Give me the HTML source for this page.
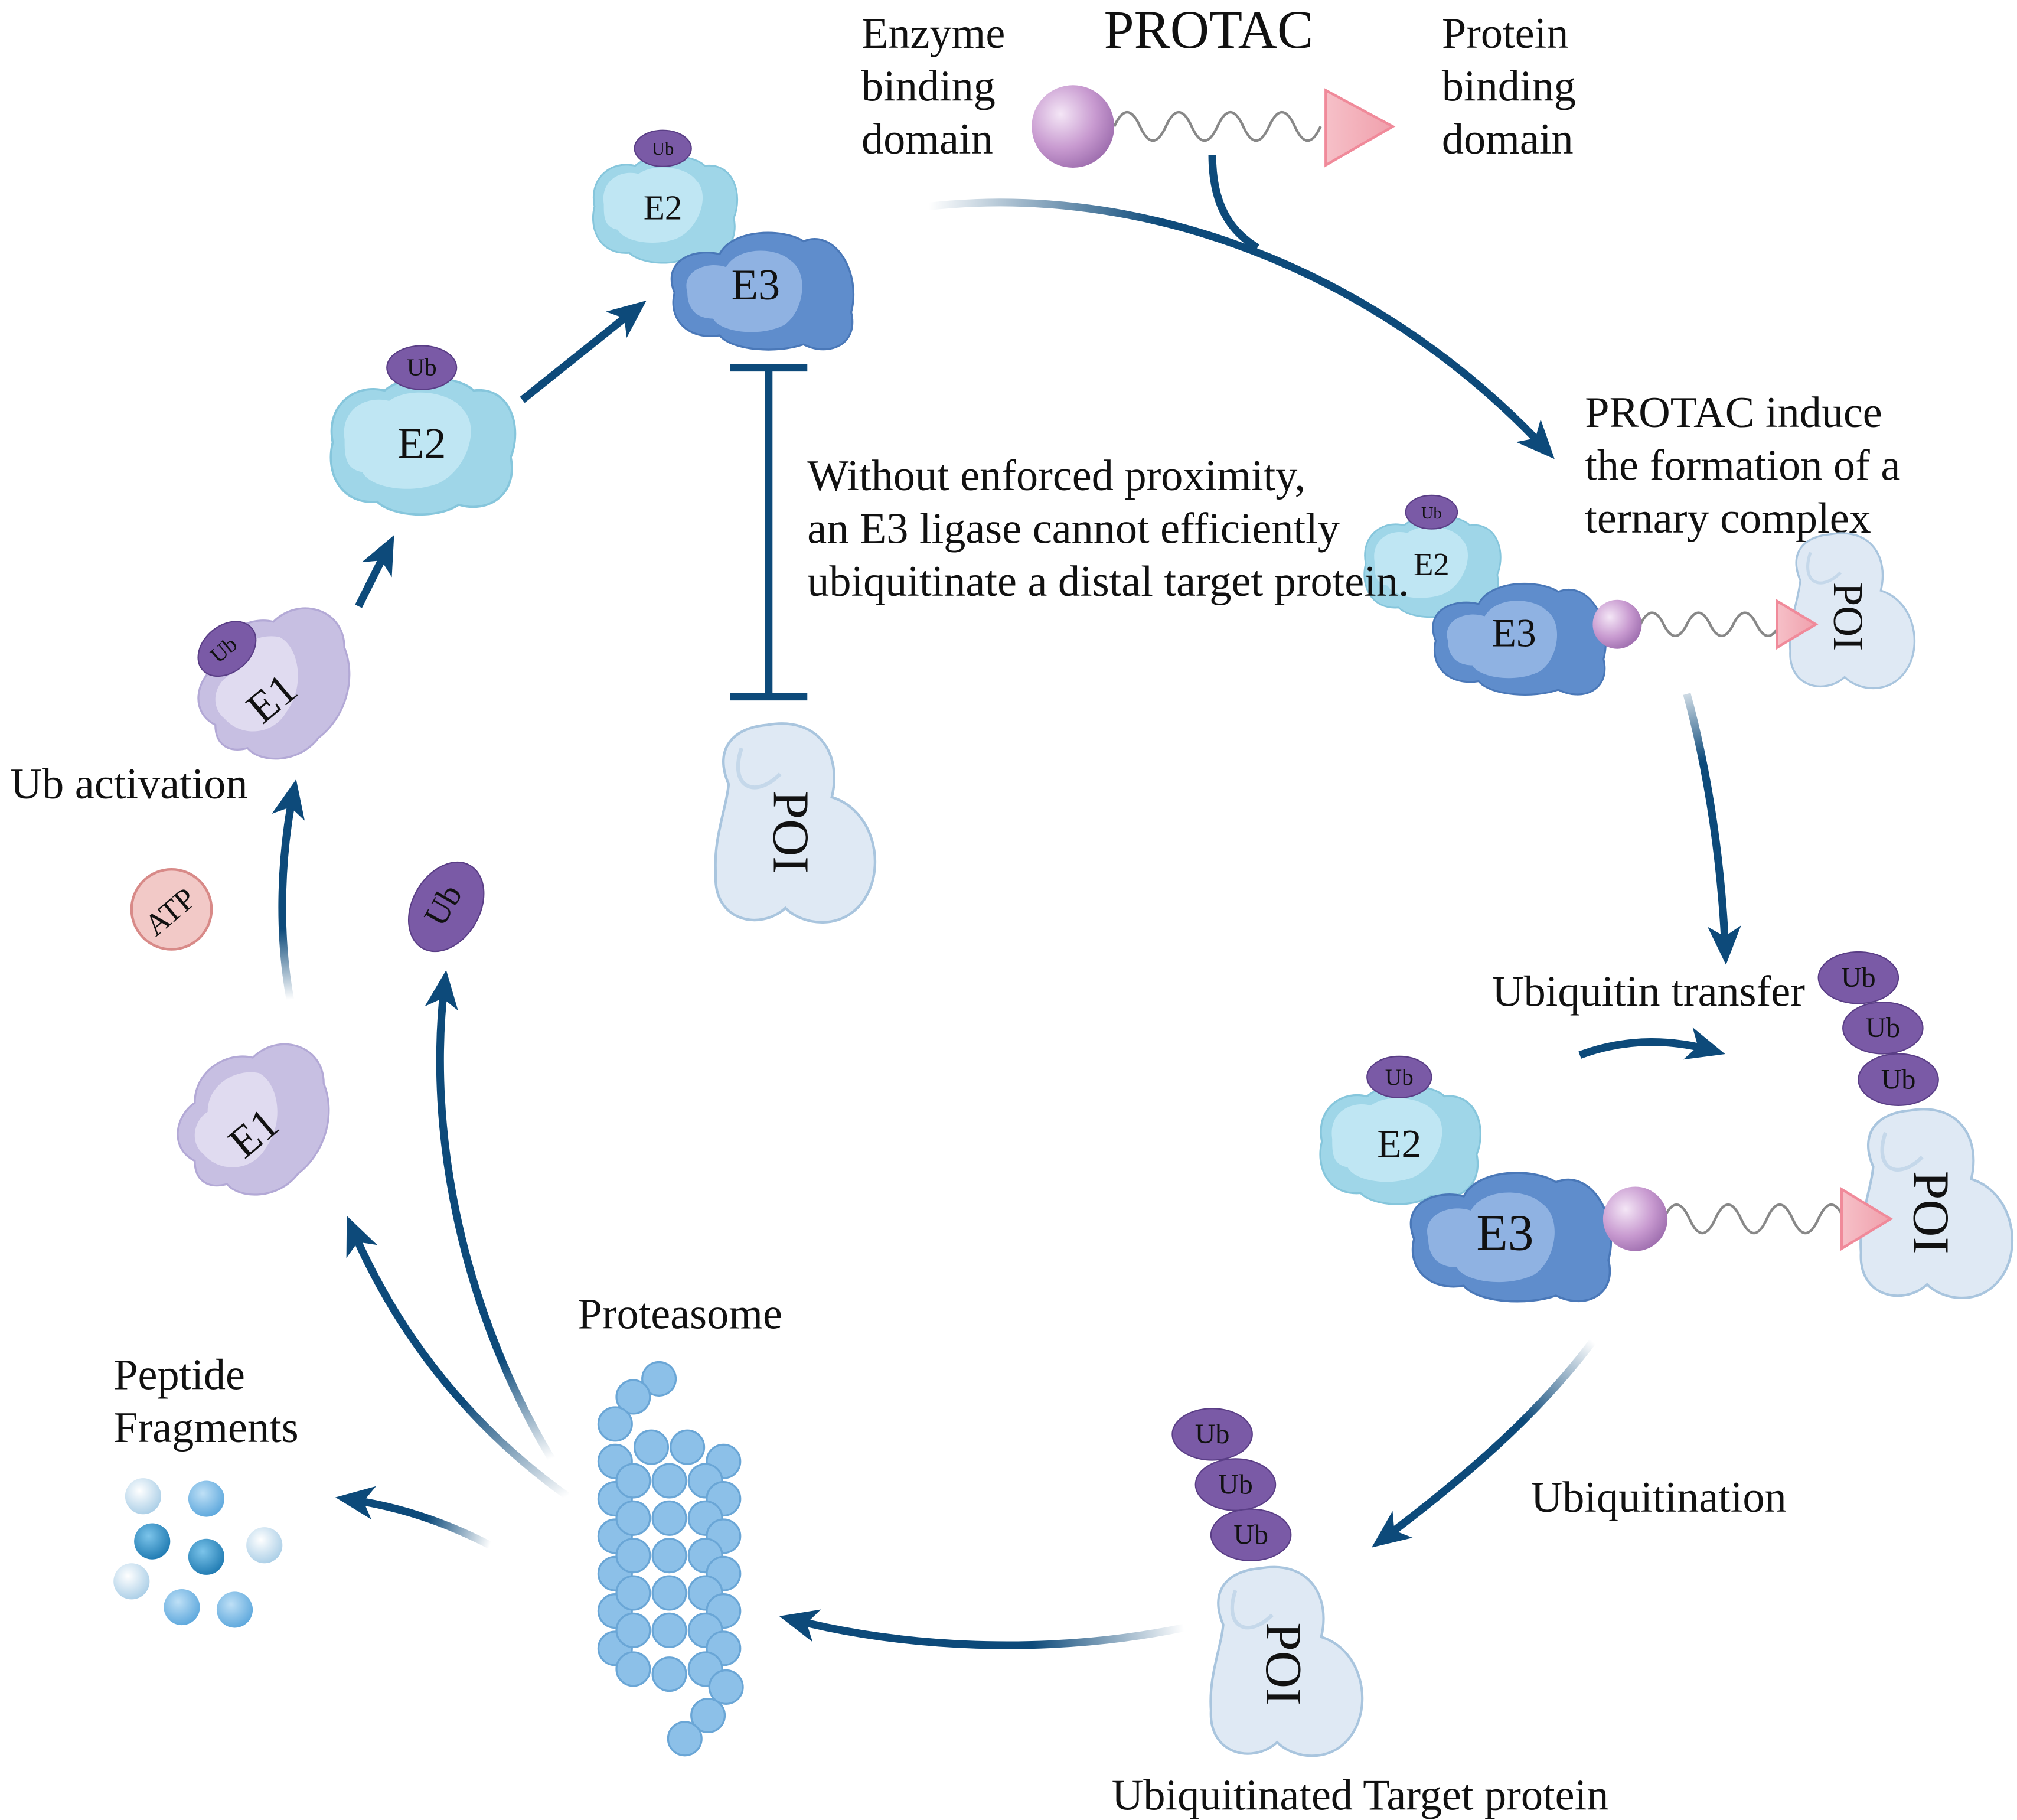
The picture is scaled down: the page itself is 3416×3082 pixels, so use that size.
<!DOCTYPE html>
<html><head><meta charset="utf-8"><style>
html,body{margin:0;padding:0;background:#fff}
svg{display:block}
text{font-family:"Liberation Serif",serif;fill:#111}
</style></head><body>
<svg width="3416" height="3082" viewBox="0 0 1564 1411" xmlns="http://www.w3.org/2000/svg">
<defs>
<marker id="ah" viewBox="0 0 30 30" refX="22" refY="15" markerWidth="30" markerHeight="30" markerUnits="userSpaceOnUse" orient="auto">
<path d="M0,2 L30,15 L0,28 L8,15 Z" fill="#0d4a7a"/></marker>
<radialGradient id="sph" cx="0.35" cy="0.35" r="0.7"><stop offset="0" stop-color="#f4e6f6"/><stop offset="0.6" stop-color="#c89ad0"/><stop offset="1" stop-color="#a070b0"/></radialGradient>
<linearGradient id="tri" x1="0" x2="1"><stop offset="0" stop-color="#f6c0c8"/><stop offset="1" stop-color="#f0a0ac"/></linearGradient>
<radialGradient id="ball" cx="0.4" cy="0.35" r="0.7"><stop offset="0" stop-color="#bfe0f6"/><stop offset="1" stop-color="#5aa6dc"/></radialGradient>
<radialGradient id="ballL" cx="0.4" cy="0.35" r="0.7"><stop offset="0" stop-color="#ffffff"/><stop offset="1" stop-color="#a8cde6"/></radialGradient>
<radialGradient id="ballD" cx="0.4" cy="0.35" r="0.7"><stop offset="0" stop-color="#7cc4ea"/><stop offset="1" stop-color="#1c78b0"/></radialGradient>
<linearGradient id="g1" gradientUnits="userSpaceOnUse" x1="720" y1="160" x2="900" y2="170"><stop offset="0" stop-color="#0d4a7a" stop-opacity="0"/><stop offset="1" stop-color="#0d4a7a"/></linearGradient>
<linearGradient id="g2" gradientUnits="userSpaceOnUse" x1="1235" y1="1040" x2="1180" y2="1100"><stop offset="0" stop-color="#0d4a7a" stop-opacity="0"/><stop offset="1" stop-color="#0d4a7a"/></linearGradient>
<linearGradient id="g3" gradientUnits="userSpaceOnUse" x1="918" y1="1262" x2="800" y2="1275"><stop offset="0" stop-color="#0d4a7a" stop-opacity="0"/><stop offset="1" stop-color="#0d4a7a"/></linearGradient>
<linearGradient id="g4" gradientUnits="userSpaceOnUse" x1="440" y1="1160" x2="390" y2="1070"><stop offset="0" stop-color="#0d4a7a" stop-opacity="0"/><stop offset="1" stop-color="#0d4a7a"/></linearGradient>
<linearGradient id="g5" gradientUnits="userSpaceOnUse" x1="380" y1="1198" x2="330" y2="1180"><stop offset="0" stop-color="#0d4a7a" stop-opacity="0"/><stop offset="1" stop-color="#0d4a7a"/></linearGradient>
<linearGradient id="g6" gradientUnits="userSpaceOnUse" x1="225" y1="775" x2="222" y2="720"><stop offset="0" stop-color="#0d4a7a" stop-opacity="0"/><stop offset="1" stop-color="#0d4a7a"/></linearGradient>
<linearGradient id="g7" gradientUnits="userSpaceOnUse" x1="1308" y1="538" x2="1320" y2="590"><stop offset="0" stop-color="#0d4a7a" stop-opacity="0.2"/><stop offset="1" stop-color="#0d4a7a"/></linearGradient>
<linearGradient id="g8" gradientUnits="userSpaceOnUse" x1="430" y1="1130" x2="400" y2="1050"><stop offset="0" stop-color="#0d4a7a" stop-opacity="0"/><stop offset="1" stop-color="#0d4a7a"/></linearGradient>

<g id="poi">
<path d="M-20,-78 C20,-85 38,-55 30,-22 C62,-12 72,30 56,56 C40,82 8,78 -6,64 C-26,82 -62,74 -60,38 C-62,10 -52,-12 -50,-32 C-62,-60 -46,-76 -20,-78Z" fill="#dfe9f4" stroke="#a9c5de" stroke-width="2"/>
<path d="M-40,-60 C-50,-30 -30,-20 -10,-40" fill="none" stroke="#c5d8ea" stroke-width="3"/>
</g>
<g id="e3">
<path d="M-65,5 C-75,-20 -50,-30 -30,-25 C-20,-45 20,-45 35,-35 C60,-45 80,-10 72,20 C78,45 55,55 35,45 C15,52 -20,50 -30,38 C-55,42 -70,25 -65,5Z" fill="#5f8dcc" stroke="#4a78b8" stroke-width="1.5"/>
<path d="M-55,5 C-60,-12 -40,-20 -25,-15 C-15,-32 15,-30 25,-20 C40,-10 35,20 20,30 C0,40 -30,35 -35,25 C-50,25 -55,15 -55,5Z" fill="#8fb2e2"/>
</g>
<g id="e2">
<path d="M-60,0 C-65,-25 -45,-40 -25,-35 C-10,-48 25,-45 35,-35 C60,-38 68,-10 60,10 C65,35 45,48 25,42 C10,52 -20,50 -30,40 C-55,42 -65,20 -60,0Z" fill="#9fd6e8" stroke="#86c6dc" stroke-width="1.5"/>
<path d="M-52,-2 C-55,-22 -38,-32 -22,-28 C-8,-38 20,-34 28,-22 C40,-10 30,20 10,28 C-10,35 -35,30 -40,20 C-52,18 -52,8 -52,-2Z" fill="#bfe6f3"/>
</g>
<g id="e1">
<path d="M-45,30 C-65,20 -60,-5 -45,-15 C-45,-40 -20,-55 0,-50 C20,-70 55,-60 55,-30 C65,-5 55,25 35,40 C20,60 -10,60 -20,48 C-35,52 -45,45 -45,30Z" fill="#c7bfe2" stroke="#b3a9d6" stroke-width="1.5"/>
<path d="M-38,25 C-50,15 -45,-2 -35,-8 C-35,-30 -12,-42 5,-38 C20,-30 25,0 10,20 C0,38 -25,40 -38,25Z" fill="#e0dbf0"/>
</g>
</defs>

<text x="668" y="37" font-size="34">Enzyme</text>
<text x="668" y="78" font-size="34">binding</text>
<text x="668" y="119" font-size="34">domain</text>
<text x="856" y="37" font-size="42">PROTAC</text>
<text x="1118" y="37" font-size="34">Protein</text>
<text x="1118" y="78" font-size="34">binding</text>
<text x="1118" y="119" font-size="34">domain</text>

<path d="M864,98 q10,-22 20,0 t20,0 t20,0 t20,0 t20,0 t20,0 t20,0 t20,0" fill="none" stroke="#888" stroke-width="2"/>
<circle cx="832" cy="98" r="32" fill="url(#sph)"/>
<path d="M1028,70 L1080,98 L1028,128Z" fill="url(#tri)" stroke="#f08a9a" stroke-width="2"/>

<path d="M720,160 C900,140 1080,220 1200,350" fill="none" stroke="url(#g1)" stroke-width="6" marker-end="url(#ah)"/>
<path d="M940,120 C940,160 955,180 975,192" fill="none" stroke="#0d4a7a" stroke-width="6"/>

<text x="1229" y="331" font-size="34">PROTAC induce</text>
<text x="1229" y="372" font-size="34">the formation of a</text>
<text x="1229" y="413" font-size="34">ternary complex</text>

<use href="#e2" transform="translate(515,160) scale(0.9)"/>
<text x="514" y="170" font-size="27" text-anchor="middle">E2</text>
<ellipse cx="514" cy="115" rx="22" ry="14" fill="#7a5aa6" stroke="#5a3e86"/>
<text x="514" y="120" font-size="14" text-anchor="middle">Ub</text>
<use href="#e3" transform="translate(588,222)"/>
<text x="586" y="232" font-size="34" text-anchor="middle">E3</text>

<path d="M596,285 V540 M566,285 H626 M566,540 H626" stroke="#0d4a7a" stroke-width="6" fill="none"/>

<use href="#poi" transform="translate(615,640)"/>
<text transform="translate(600,645) rotate(90)" font-size="40" text-anchor="middle">POI</text>

<use href="#e2" transform="translate(327,343) scale(1.15)"/>
<text x="327" y="355" font-size="34" text-anchor="middle">E2</text>
<ellipse cx="327" cy="285" rx="27" ry="17" fill="#7a5aa6" stroke="#5a3e86"/>
<text x="327" y="291" font-size="19" text-anchor="middle">Ub</text>
<path d="M405,310 L495,238" stroke="#0d4a7a" stroke-width="6" marker-end="url(#ah)"/>
<path d="M278,470 L302,422" stroke="#0d4a7a" stroke-width="6" marker-end="url(#ah)"/>

<use href="#e1" transform="translate(212,532)"/>
<text transform="translate(218,550) rotate(-40)" font-size="34" text-anchor="middle">E1</text>
<ellipse cx="176" cy="503" rx="25" ry="18" transform="rotate(-40 176 503)" fill="#7a5aa6" stroke="#5a3e86"/>
<text transform="translate(177,508) rotate(-40)" font-size="17" text-anchor="middle">Ub</text>
<text x="8" y="619" font-size="34">Ub activation</text>

<circle cx="133" cy="705" r="31" fill="#f2c9c7" stroke="#d88a88" stroke-width="2"/>
<text transform="translate(137,713) rotate(-40)" font-size="24" text-anchor="middle">ATP</text>
<ellipse cx="346" cy="703" rx="26" ry="37" transform="rotate(30 346 703)" fill="#7a5aa6" stroke="#5a3e86"/>
<text transform="translate(351,706) rotate(-60)" font-size="26" text-anchor="middle">Ub</text>

<path d="M225,775 C215,720 218,660 228,612" fill="none" stroke="url(#g6)" stroke-width="6" marker-end="url(#ah)"/>

<use href="#e1" transform="translate(196,870)"/>
<text transform="translate(204,887) rotate(-40)" font-size="34" text-anchor="middle">E1</text>

<path d="M430,1135 C360,1020 330,880 345,760" fill="none" stroke="url(#g8)" stroke-width="6" marker-end="url(#ah)"/>
<path d="M440,1160 C370,1110 310,1040 272,950" fill="none" stroke="url(#g4)" stroke-width="6" marker-end="url(#ah)"/>
<path d="M380,1198 C345,1180 310,1168 268,1162" fill="none" stroke="url(#g5)" stroke-width="6" marker-end="url(#ah)"/>

<text x="448" y="1030" font-size="34">Proteasome</text>
<text x="88" y="1077" font-size="34">Peptide</text>
<text x="88" y="1118" font-size="34">Fragments</text>

<circle cx="111" cy="1160" r="14" fill="url(#ballL)"/>
<circle cx="160" cy="1162" r="14" fill="url(#ball)"/>
<circle cx="118" cy="1195" r="14" fill="url(#ballD)"/>
<circle cx="160" cy="1207" r="14" fill="url(#ballD)"/>
<circle cx="205" cy="1198" r="14" fill="url(#ballL)"/>
<circle cx="102" cy="1226" r="14" fill="url(#ballL)"/>
<circle cx="141" cy="1246" r="14" fill="url(#ball)"/>
<circle cx="182" cy="1248" r="14" fill="url(#ball)"/>

<g fill="#8cc0e8" stroke="#6aa6d6" stroke-width="1.5">
<circle cx="511" cy="1069" r="13"/><circle cx="491" cy="1083" r="13"/><circle cx="477" cy="1104" r="13"/>
<circle cx="505" cy="1122" r="13"/><circle cx="533" cy="1122" r="13"/><circle cx="561" cy="1133" r="13"/>
<circle cx="477" cy="1133" r="13"/>
<circle cx="477" cy="1162" r="13"/><circle cx="491" cy="1148" r="13"/><circle cx="519" cy="1148" r="13"/><circle cx="547" cy="1148" r="13"/><circle cx="561" cy="1162" r="13"/>
<circle cx="477" cy="1191" r="13"/><circle cx="491" cy="1177" r="13"/><circle cx="519" cy="1177" r="13"/><circle cx="547" cy="1177" r="13"/><circle cx="561" cy="1191" r="13"/>
<circle cx="477" cy="1220" r="13"/><circle cx="491" cy="1206" r="13"/><circle cx="519" cy="1206" r="13"/><circle cx="547" cy="1206" r="13"/><circle cx="561" cy="1220" r="13"/>
<circle cx="477" cy="1249" r="13"/><circle cx="491" cy="1235" r="13"/><circle cx="519" cy="1235" r="13"/><circle cx="547" cy="1235" r="13"/><circle cx="561" cy="1249" r="13"/>
<circle cx="477" cy="1278" r="13"/><circle cx="491" cy="1264" r="13"/><circle cx="519" cy="1264" r="13"/><circle cx="547" cy="1264" r="13"/><circle cx="561" cy="1278" r="13"/>
<circle cx="491" cy="1294" r="13"/><circle cx="519" cy="1298" r="13"/><circle cx="547" cy="1294" r="13"/><circle cx="563" cy="1308" r="13"/>
<circle cx="549" cy="1330" r="13"/><circle cx="531" cy="1348" r="13"/>
</g>

<path d="M918,1262 C820,1282 710,1280 612,1255" fill="none" stroke="url(#g3)" stroke-width="6" marker-end="url(#ah)"/>

<use href="#poi" transform="translate(996,1290) scale(0.95)"/>
<text transform="translate(982,1290) rotate(90)" font-size="40" text-anchor="middle">POI</text>
<ellipse cx="940" cy="1112" rx="31" ry="20" fill="#7a5aa6" stroke="#5a3e86"/>
<text x="940" y="1119" font-size="22" text-anchor="middle">Ub</text>
<ellipse cx="958" cy="1151" rx="31" ry="20" fill="#7a5aa6" stroke="#5a3e86"/>
<text x="958" y="1158" font-size="22" text-anchor="middle">Ub</text>
<ellipse cx="970" cy="1190" rx="31" ry="20" fill="#7a5aa6" stroke="#5a3e86"/>
<text x="970" y="1197" font-size="22" text-anchor="middle">Ub</text>
<text x="862" y="1403" font-size="34">Ubiquitinated Target protein</text>

<path d="M1235,1040 C1190,1100 1130,1150 1070,1195" fill="none" stroke="url(#g2)" stroke-width="6" marker-end="url(#ah)"/>
<text x="1187" y="1172" font-size="34">Ubiquitination</text>

<path d="M1290,945 q10,-22 20,0 t20,0 t20,0 t20,0 t20,0 t20,0 t20,0" fill="none" stroke="#888" stroke-width="2"/>
<use href="#poi" transform="translate(1500,935) scale(0.95)"/>
<text transform="translate(1484,940) rotate(90)" font-size="40" text-anchor="middle">POI</text>
<use href="#e2" transform="translate(1085,885)"/>
<text x="1085" y="897" font-size="31" text-anchor="middle">E2</text>
<ellipse cx="1085" cy="835" rx="25" ry="16" fill="#7a5aa6" stroke="#5a3e86"/>
<text x="1085" y="841" font-size="18" text-anchor="middle">Ub</text>
<use href="#e3" transform="translate(1168,955) scale(1.1)"/>
<text x="1167" y="969" font-size="40" text-anchor="middle">E3</text>
<circle cx="1268" cy="945" r="25" fill="url(#sph)"/>
<path d="M1428,922 L1466,945 L1428,968Z" fill="url(#tri)" stroke="#f08a9a" stroke-width="2"/>
<ellipse cx="1441" cy="758" rx="31" ry="20" fill="#7a5aa6" stroke="#5a3e86"/>
<text x="1441" y="765" font-size="22" text-anchor="middle">Ub</text>
<ellipse cx="1460" cy="797" rx="31" ry="20" fill="#7a5aa6" stroke="#5a3e86"/>
<text x="1460" y="804" font-size="22" text-anchor="middle">Ub</text>
<ellipse cx="1472" cy="837" rx="31" ry="20" fill="#7a5aa6" stroke="#5a3e86"/>
<text x="1472" y="844" font-size="22" text-anchor="middle">Ub</text>
<text x="1157" y="780" font-size="34">Ubiquitin transfer</text>
<path d="M1225,818 C1260,805 1295,805 1330,815" fill="none" stroke="#0d4a7a" stroke-width="6" marker-end="url(#ah)"/>

<path d="M1308,538 C1325,600 1335,670 1338,740" fill="none" stroke="url(#g7)" stroke-width="6" marker-end="url(#ah)"/>

<path d="M1272,484 q9,-18 18,0 t18,0 t18,0 t18,0 t18,0 t18,0" fill="none" stroke="#888" stroke-width="2"/>
<use href="#poi" transform="translate(1435,475) scale(0.78)"/>
<text transform="translate(1422,478) rotate(90)" font-size="33" text-anchor="middle">POI</text>
<use href="#e2" transform="translate(1110,437) scale(0.85)"/>
<text x="1110" y="446" font-size="25" text-anchor="middle">E2</text>
<ellipse cx="1110" cy="397" rx="20" ry="13" fill="#7a5aa6" stroke="#5a3e86"/>
<text x="1110" y="402" font-size="13" text-anchor="middle">Ub</text>
<use href="#e3" transform="translate(1175,492) scale(0.95)"/>
<text x="1174" y="501" font-size="31" text-anchor="middle">E3</text>
<circle cx="1254" cy="484" r="19" fill="url(#sph)"/>
<path d="M1378,466 L1408,484 L1378,502Z" fill="url(#tri)" stroke="#f08a9a" stroke-width="2"/>

<text x="626" y="380" font-size="34">Without enforced proximity,</text>
<text x="626" y="421" font-size="34">an E3 ligase cannot efficiently</text>
<text x="626" y="462" font-size="34">ubiquitinate a distal target protein.</text>
</svg>
</body></html>
